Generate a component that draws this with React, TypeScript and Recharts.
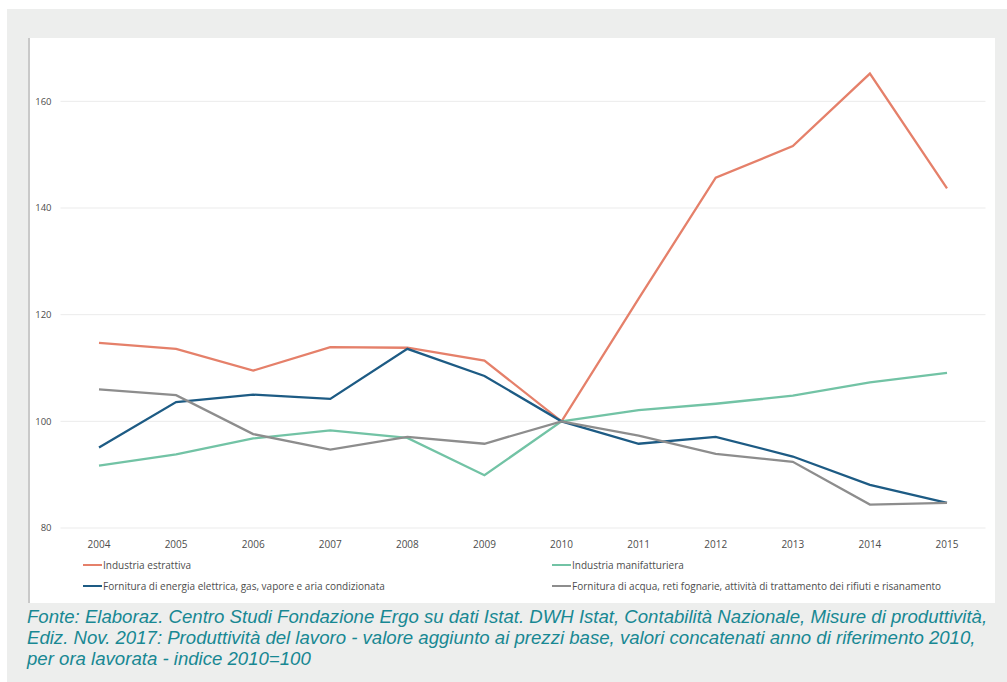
import { LineChart, Line, XAxis, YAxis, CartesianGrid, Legend } from "recharts";

const years = ["2004", "2005", "2006", "2007", "2008", "2009", "2010", "2011", "2012", "2013", "2014", "2015"];

const estrattiva = [114.7, 113.6, 109.5, 113.9, 113.8, 111.4, 100, 123.0, 145.7, 151.6, 165.2, 143.7];
const manifatturiera = [91.7, 93.8, 96.8, 98.3, 96.9, 89.9, 100, 102.1, 103.3, 104.8, 107.3, 109.1];
const energia = [95.1, 103.6, 105.0, 104.2, 113.6, 108.5, 100, 95.8, 97.1, 93.4, 88.1, 84.7];
const acqua = [106.0, 104.9, 97.6, 94.7, 97.1, 95.8, 100, 97.3, 93.9, 92.4, 84.4, 84.7];

const yTicks = [80, 100, 120, 140, 160];
const yDomain: [number, number] = [80, 170];

const series = [
  { key: "estrattiva", name: "Industria estrattiva", color: "#e5806a", values: estrattiva },
  { key: "manifatturiera", name: "Industria manifatturiera", color: "#72c3a5", values: manifatturiera },
  { key: "energia", name: "Fornitura di energia elettrica, gas, vapore e aria condizionata", color: "#1d5b84", values: energia },
  { key: "acqua", name: "Fornitura di acqua, reti fognarie, attività di trattamento dei rifiuti e risanamento", color: "#8d8d8d", values: acqua },
];

const captionLines = [
  "Fonte: Elaboraz. Centro Studi Fondazione Ergo su dati Istat. DWH Istat, Contabilità Nazionale, Misure di produttività,",
  "Ediz. Nov. 2017: Produttività del lavoro - valore aggiunto ai prezzi base, valori concatenati anno di riferimento 2010,",
  "per ora lavorata - indice 2010=100",
];

const chartData = years.map((year, i) => {
  const row: Record<string, string | number> = { year };
  series.forEach((s) => {
    row[s.key] = s.values[i];
  });
  return row;
});

const FONT = "'Open Sans', Lato, sans-serif";

// gridlines only on the labelled ticks, none along the top edge
const gridRows = ({ yAxis, offset }: any) => {
  if (yAxis && typeof yAxis.scale === "function") {
    return yTicks.map((t) => yAxis.scale(t));
  }
  const [lo, hi] = yDomain;
  return yTicks.map((t) => offset.top + (offset.height * (hi - t)) / (hi - lo));
};

// two rows, two columns, like the original spreadsheet legend
const renderLegend = () => {
  const item = (s: (typeof series)[number]) => (
    <div key={s.key} style={{ display: "flex", alignItems: "center", width: 469, flexShrink: 0 }}>
      <span style={{ display: "inline-block", width: 19, height: 2, background: s.color, flexShrink: 0 }} />
      <span style={{ marginLeft: 1, whiteSpace: "nowrap" }}>{s.name}</span>
    </div>
  );
  return (
    <div style={{ fontFamily: FONT, fontSize: 10, color: "#4d4d4d", paddingLeft: 55 }}>
      <div style={{ display: "flex", height: 21, alignItems: "center" }}>
        {item(series[0])}
        {item(series[1])}
      </div>
      <div style={{ display: "flex", height: 21, alignItems: "center" }}>
        {item(series[2])}
        {item(series[3])}
      </div>
    </div>
  );
};

export default function App() {
  return (
    <div style={{ position: "absolute", left: 0, top: 0, width: 1007, height: 682, background: "#fff" }}>
      <div style={{ position: "absolute", left: 7, top: 9, width: 1000, height: 673, background: "#edeeed" }} />
      <div
        style={{
          position: "absolute",
          left: 28,
          top: 38,
          width: 967,
          height: 565,
          background: "#fff",
          borderLeft: "2px solid #c9c9c9",
          boxSizing: "border-box",
        }}
      />
      <div style={{ position: "absolute", left: 28, top: 38 }}>
        <LineChart width={967} height={565} data={chartData} margin={{ top: 10, right: 9.5, bottom: 0, left: 0 }}>
          <CartesianGrid vertical={false} stroke="#ebebeb" horizontalCoordinatesGenerator={gridRows} />
          <XAxis
            dataKey="year"
            axisLine={false}
            tickLine={false}
            padding={{ left: 38.5, right: 38.5 }}
            height={75}
            tickMargin={7}
            interval={0}
            tick={{ fontSize: 10, fill: "#4d4d4d", fontFamily: FONT }}
          />
          <YAxis
            width={32.5}
            domain={yDomain}
            ticks={yTicks}
            axisLine={false}
            tickLine={false}
            tickMargin={3}
            tick={{ fontSize: 9.5, fill: "#4d4d4d", fontFamily: FONT }}
          />
          <Legend
            layout="vertical"
            align="center"
            verticalAlign="middle"
            content={renderLegend}
            wrapperStyle={{ left: 0, top: 516, width: 967 }}
          />
          {series.map((s) => (
            <Line
              key={s.key}
              dataKey={s.key}
              name={s.name}
              type="linear"
              stroke={s.color}
              strokeWidth={2.3}
              dot={false}
              activeDot={false}
              isAnimationActive={false}
            />
          ))}
        </LineChart>
      </div>
      <div
        style={{
          position: "absolute",
          left: 27,
          top: 606,
          fontFamily: "'Liberation Sans', Arial, sans-serif",
          fontStyle: "italic",
          fontSize: 18.6,
          lineHeight: "21px",
          color: "#188893",
          whiteSpace: "nowrap",
        }}
      >
        {captionLines.map((line) => (
          <div key={line}>{line}</div>
        ))}
      </div>
    </div>
  );
}
